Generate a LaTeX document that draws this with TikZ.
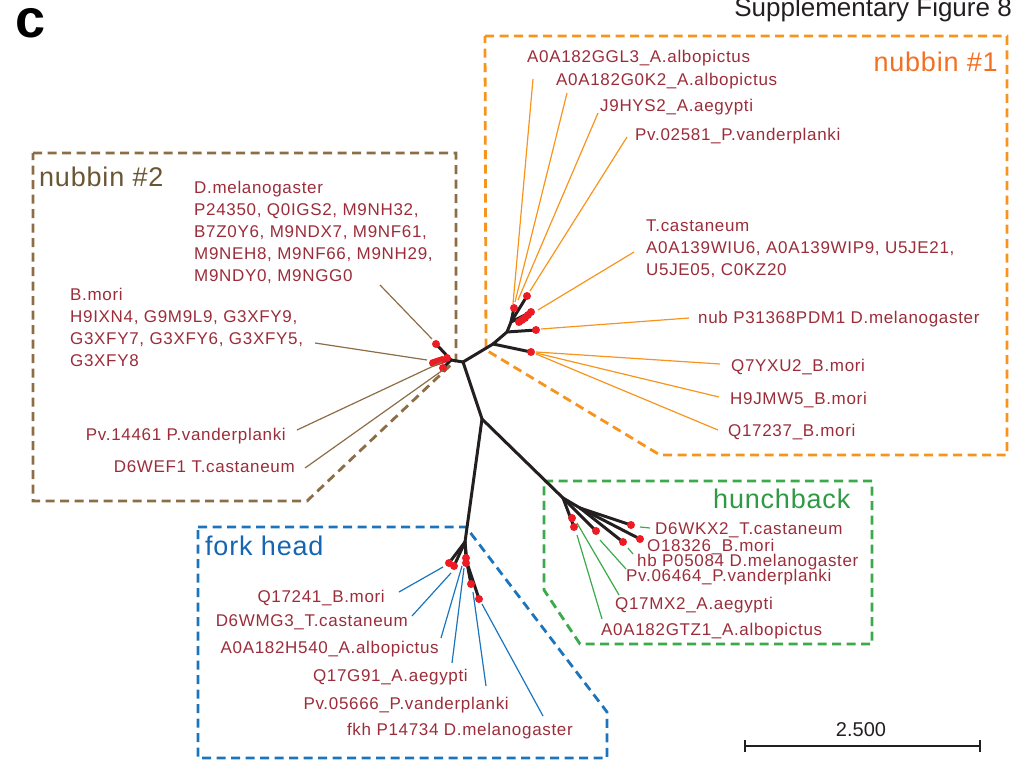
\documentclass[tikz,border=0pt]{standalone}
\usepackage{fontspec}
\setmainfont{Liberation Sans}
\newfontfamily\labfont[LetterSpace=4]{Liberation Sans}
\newfontfamily\ttlfont[LetterSpace=3]{Liberation Sans}

\definecolor{labred}{HTML}{9B2D3A}
\definecolor{dotred}{HTML}{ED1C24}
\definecolor{treeblack}{HTML}{231F20}
\definecolor{orline}{HTML}{F7941D}
\definecolor{ortitle}{HTML}{F36F21}
\definecolor{brline}{HTML}{8C6D45}
\definecolor{brtitle}{HTML}{6B5634}
\definecolor{grline}{HTML}{3BAA4A}
\definecolor{grtitle}{HTML}{2F9A44}
\definecolor{blline}{HTML}{1C75BC}
\definecolor{bltitle}{HTML}{1565B0}

\begin{document}
\begin{tikzpicture}[x=1pt,y=-1pt,
  tree/.style={draw=treeblack, line width=3pt, line cap=round, line join=round},
  leaf/.style={line width=1.2pt},
  groupbox/.style={line width=2.8pt, dash pattern=on 9pt off 5.5pt},
  lab/.style={font=\fontsize{17}{22}\labfont, text=labred, inner sep=0pt},
  labblock/.style={lab, align=left, anchor=north west},
  ttl/.style={font=\fontsize{27}{30}\ttlfont, inner sep=0pt},
  dot/.style={fill=dotred}]
\useasboundingbox (0,0) rectangle (1018,760);

% panel letter and figure caption
\node[font=\fontsize{54}{54}\selectfont\bfseries, text=black, anchor=base west, inner sep=0pt] (panel) at (15,38) {c};
\node[font=\fontsize{26}{28}\selectfont, text=treeblack, anchor=base east, inner sep=0pt] (caption) at (1012,17) {Supplementary Figure 8};

% dashed group outlines
\draw[groupbox, draw=orline] (485,36) -- (1007,36) -- (1007,455) -- (660,455) -- (486,350) -- cycle;
\draw[groupbox, draw=brline] (33,153) -- (456,153) -- (456,360) -- (307,501) -- (33,501) -- cycle;
\draw[groupbox, draw=grline] (544,481) -- (872,481) -- (872,644) -- (580,644) -- (544,590) -- cycle;
\draw[groupbox, draw=blline] (198,527) -- (466,527) -- (607,712) -- (607,758) -- (198,758) -- cycle;

% group titles
\node[ttl, text=ortitle, anchor=base east] (t1) at (998,71) {nubbin \#1};
\node[ttl, text=brtitle, anchor=base west] (t2) at (39,186) {nubbin \#2};
\node[ttl, text=grtitle, anchor=base west] (t3) at (713,508) {hunchback};
\node[ttl, text=bltitle, anchor=base west] (t4) at (205,555) {fork head};

% tree: internal nodes
\coordinate (J1) at (463,362);
\coordinate (Jb) at (451,360);
\coordinate (J2) at (493,344);
\coordinate (J3) at (482,419);
\coordinate (J4) at (507,332);
\coordinate (J5) at (511,322);
\coordinate (Jf) at (465,542);
\coordinate (fK) at (467,563);
\coordinate (Jg) at (563,498);
\coordinate (gK) at (580,508);

% tree: leaves
\coordinate (oA) at (514,308);
\coordinate (oB) at (527,296);
\coordinate (oC) at (531,312);
\coordinate (oN) at (536,330);
\coordinate (oM) at (531,352);
\coordinate (bD) at (436,344);
\coordinate (bB) at (433,363);
\coordinate (bE) at (447,358);
\coordinate (bF) at (443,368);
\coordinate (f1) at (449,563);
\coordinate (f2) at (454,566);
\coordinate (f3) at (466,558);
\coordinate (f5) at (471,584);
\coordinate (f6) at (479,599);
\coordinate (g1) at (572,518);
\coordinate (g2) at (574,527);
\coordinate (g3) at (596,531);
\coordinate (g4) at (623,542);
\coordinate (g5) at (631,525);
\coordinate (g6) at (640,539);

% tree branches
\draw[tree] (J1) -- (J2);
\draw[tree] (J1) -- (Jb);
\draw[tree] (J1) -- (J3);
\draw[tree] (J2) -- (oM);
\draw[tree] (J2) -- (J4) -- (oN);
\draw[tree] (J4) -- (J5) -- (oA);
\draw[tree] (J5) -- (oB);
\draw[tree] (J5) -- (oC);
\draw[tree] (Jb) -- (bD);
\draw[tree] (Jb) -- (bB);
\draw[tree] (Jb) -- (bF);
\draw[tree] (J3) -- (Jf);
\draw[tree] (Jf) -- (f1);
\draw[tree] (Jf) -- (f2);
\draw[tree] (Jf) -- (f3);
\draw[tree] (Jf) -- (fK) -- (f5);
\draw[tree] (fK) -- (f6);
\draw[tree] (J3) -- (Jg);
\draw[tree] (Jg) -- (g2);
\draw[tree] (Jg) -- (g3);
\draw[tree] (Jg) -- (gK);
\draw[tree] (gK) -- (g4);
\draw[tree] (gK) -- (g5);
\draw[tree] (gK) -- (g6);

% leaf dots
\foreach \p in {oA,oB,oN,oM,bD,bE,bF,f1,f2,f3,f5,f6,g1,g2,g3,g4,g5,g6}
  \fill[dot] (\p) circle (4pt);
\foreach \x/\y in {519/322,522/320,525/318,528/315,531/312}
  \fill[dot] (\x,\y) circle (4pt);
\foreach \x/\y in {433/363,436/362,439/361,442/360}
  \fill[dot] (\x,\y) circle (4pt);
\fill[dot] (466,563) circle (4pt);

% ---- nubbin #1 labels
\node[lab, anchor=base west] (o1) at (527,63) {A0A182GGL3\_A.albopictus};
\node[lab, anchor=base west] (o2) at (556,85) {A0A182G0K2\_A.albopictus};
\node[lab, anchor=base west] (o3) at (600,111) {J9HYS2\_A.aegypti};
\node[lab, anchor=base west] (o4) at (635,140) {Pv.02581\_P.vanderplanki};
\node[labblock] (o5) at (646,219.8) {T.castaneum\\A0A139WIU6, A0A139WIP9, U5JE21,\\U5JE05, C0KZ20};
\node[lab, anchor=base west] (o6) at (698,323) {nub P31368PDM1 D.melanogaster};
\node[lab, anchor=base west] (o7) at (731,371) {Q7YXU2\_B.mori};
\node[lab, anchor=base west] (o8) at (730,404) {H9JMW5\_B.mori};
\node[lab, anchor=base west] (o9) at (728,436) {Q17237\_B.mori};

\coordinate (oe1) at (533,79);  \coordinate (ot1) at (513,304);
\coordinate (oe2) at (567,93);  \coordinate (ot2) at (515,302);
\coordinate (oe3) at (598,113); \coordinate (ot3) at (518,300);
\coordinate (oe4) at (627,137); \coordinate (ot4) at (530,291);
\coordinate (oe5) at (634,252); \coordinate (ot5) at (538,310);
\coordinate (oe6) at (689,318); \coordinate (ot6) at (541,329);
\coordinate (oe7) at (720,364); \coordinate (ot7) at (536,352);
\coordinate (oe8) at (719,397); \coordinate (ot8) at (536,353);
\coordinate (oe9) at (718,430); \coordinate (ot9) at (536,354);
\foreach \i in {1,...,9}
  \draw[leaf, orline] (oe\i) -- (ot\i);

% ---- nubbin #2 labels
\node[labblock] (b1) at (194,180.8) {D.melanogaster\\P24350, Q0IGS2, M9NH32,\\B7Z0Y6, M9NDX7, M9NF61,\\M9NEH8, M9NF66, M9NH29,\\M9NDY0, M9NGG0};
\node[labblock] (b2) at (70,287.8) {B.mori\\H9IXN4, G9M9L9, G3XFY9,\\G3XFY7, G3XFY6, G3XFY5,\\G3XFY8};
\node[lab, anchor=base east] (b3) at (286,440) {Pv.14461 P.vanderplanki};
\node[lab, anchor=base east] (b4) at (295,472) {D6WEF1 T.castaneum};

\coordinate (be1) at (380,285); \coordinate (bt1) at (432,339);
\coordinate (be2) at (315,343); \coordinate (bt2) at (427,360);
\coordinate (be3) at (297,430); \coordinate (bt3) at (442,362);
\coordinate (be4) at (305,468); \coordinate (bt4) at (443,370);
\foreach \i in {1,...,4}
  \draw[leaf, brline] (be\i) -- (bt\i);

% ---- fork head labels
\node[lab, anchor=base east] (f1l) at (385,602) {Q17241\_B.mori};
\node[lab, anchor=base east] (f2l) at (408,626) {D6WMG3\_T.castaneum};
\node[lab, anchor=base east] (f3l) at (439,653) {A0A182H540\_A.albopictus};
\node[lab, anchor=base east] (f4l) at (468,681) {Q17G91\_A.aegypti};
\node[lab, anchor=base east] (f5l) at (509,709) {Pv.05666\_P.vanderplanki};
\node[lab, anchor=base east] (f6l) at (573,735) {fkh P14734 D.melanogaster};

\coordinate (fe1) at (399,592); \coordinate (ft1) at (443,567);
\coordinate (fe2) at (412,616); \coordinate (ft2) at (451,573);
\coordinate (fe3) at (441,638); \coordinate (ft3) at (462,566);
\coordinate (fe4) at (452,663); \coordinate (ft4) at (464,568);
\coordinate (fe5) at (486,686); \coordinate (ft5) at (473,592);
\coordinate (fe6) at (543,716); \coordinate (ft6) at (482,604);
\foreach \i in {1,...,6}
  \draw[leaf, blline] (fe\i) -- (ft\i);

% ---- hunchback labels
\node[lab, anchor=base west] (g1l) at (655,534) {D6WKX2\_T.castaneum};
\node[lab, anchor=base west] (g2l) at (647,551) {O18326\_B.mori};
\node[lab, anchor=base west] (g3l) at (637,566) {hb P05084 D.melanogaster};
\node[lab, anchor=base west] (g4l) at (626,581) {Pv.06464\_P.vanderplanki};
\node[lab, anchor=base west] (g5l) at (615,609) {Q17MX2\_A.aegypti};
\node[lab, anchor=base west] (g6l) at (601,635) {A0A182GTZ1\_A.albopictus};

\coordinate (ge1) at (650,528); \coordinate (gt1) at (640,527);
\coordinate (ge3) at (633,554); \coordinate (gt3) at (628,548);
\coordinate (ge4) at (626,569); \coordinate (gt4) at (600,540);
\coordinate (ge5) at (619,595); \coordinate (gt5) at (577,523);
\coordinate (ge6) at (602,619); \coordinate (gt6) at (577,535);
\foreach \i in {1,3,4,5,6}
  \draw[leaf, grline] (ge\i) -- (gt\i);

% scale bar
\coordinate (sL) at (745,746);
\coordinate (sR) at (980,746);
\draw[line width=2pt, treeblack] (sL) -- (sR);
\draw[line width=2pt, treeblack] ([yshift=-6pt]sL) -- ([yshift=6pt]sL);
\draw[line width=2pt, treeblack] ([yshift=-6pt]sR) -- ([yshift=6pt]sR);
\node[font=\fontsize{20}{22}\selectfont, text=treeblack, anchor=base, inner sep=0pt] (scale) at (861,736) {2.500};
\end{tikzpicture}
\end{document}
